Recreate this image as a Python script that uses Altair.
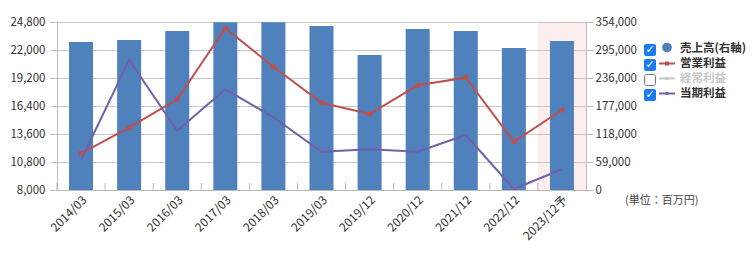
import altair as alt
import pandas as pd

categories = ["2014/03", "2015/03", "2016/03", "2017/03", "2018/03", "2019/03",
              "2019/12", "2020/12", "2021/12", "2022/12", "2023/12予"]
sales = [311900, 316100, 335000, 353500, 353500, 345600, 284500, 339300, 335000, 299200, 314000]
operating = [11670, 14230, 17070, 24170, 20330, 16730, 15600, 18470, 19230, 12830, 16000]
net = [11000, 21000, 13930, 18070, 15270, 11830, 12070, 11830, 13500, 8100, 10070]
left_ticks = [8000, 10800, 13600, 16400, 19200, 22000, 24800]
right_ticks = [0, 59000, 118000, 177000, 236000, 295000, 354000]
forecast = ["2023/12予"]

legend_labels = ["売上高(右軸)", "営業利益", "経常利益", "当期利益"]
legend_checked = [True, True, False, True]
legend_text_colors = ["#333333", "#333333", "#c8c8c8", "#333333"]

df = pd.DataFrame({"cat": categories, "sales": sales, "op": operating, "net": net})

FONT = "Noto Sans CJK JP"
W, H = 529, 168

xaxis = alt.Axis(labelAngle=-45, labelFontSize=12, labelColor="#333333",
                 labelFont=FONT, ticks=False, domainColor="#bbbbbb",
                 labelPadding=4, grid=False)
xscale = alt.Scale(paddingInner=0, paddingOuter=0)


def xenc(**kw):
    return alt.X("cat:N", sort=categories, title=None, scale=xscale, axis=xaxis, **kw)


lscale = alt.Scale(domain=[8000, 24800], nice=False, zero=False)
laxis = alt.Axis(orient="left", values=left_ticks, format=",.0f", grid=True,
                 gridColor="#c8c8c8", labelFontSize=11.5, labelColor="#333333",
                 labelFont=FONT, tickSize=7, labelPadding=5,
                 domainColor="#bbbbbb", tickColor="#bbbbbb")


def yleft(field):
    return alt.Y(field, type="quantitative", title=None, scale=lscale, axis=laxis)


base = alt.Chart(df)

bg = base.transform_filter(alt.FieldOneOfPredicate(field="cat", oneOf=forecast)).mark_rect(
    color="#f4a0a0", opacity=0.18).encode(x=xenc(), y=alt.value(0), y2=alt.value(H))

bars = base.mark_bar(size=24, color="#4f81bd").encode(
    x=xenc(),
    y=alt.Y("sales:Q", title=None,
            scale=alt.Scale(domain=[0, 354000], nice=False, zero=True),
            axis=alt.Axis(orient="right", values=right_ticks, format=",.0f", grid=False,
                          labelFontSize=11.5, labelColor="#333333", labelFont=FONT,
                          tickSize=7, labelPadding=2, domainColor="#bbbbbb",
                          tickColor="#bbbbbb")))

op_line = base.mark_line(color="#c0504d", strokeWidth=2).encode(x=xenc(), y=yleft("op"))
op_pts = base.mark_point(shape="square", filled=True, color="#c0504d", size=22, opacity=1).encode(
    x=xenc(), y=yleft("op"))
net_line = base.mark_line(color="#7460a8", strokeWidth=2).encode(x=xenc(), y=yleft("net"))
# small ticks at the category boundaries, rising 7px from the bottom axis
bticks = base.mark_rule(color="#bbbbbb", strokeWidth=1).encode(
    x=xenc(bandPosition=0), y=alt.value(H - 7), y2=alt.value(H))

lines = alt.layer(op_line, op_pts, net_line)

one = pd.DataFrame({"a": [0]})
leg_layers = []
sym_colors = ["#4f81bd", "#c0504d", "#c8c8c8", "#7460a8"]
for i, (lab, chk, tc) in enumerate(zip(legend_labels, legend_checked, legend_text_colors)):
    cy = 28 + 15 * i
    lc = alt.Chart(one)
    if chk:
        box = lc.mark_rect(color="#1a7cf2", cornerRadius=2).encode(
            x=alt.value(587), x2=alt.value(599), y=alt.value(cy - 6), y2=alt.value(cy + 6))
        tick = lc.mark_text(text="✓", font="DejaVu Sans", fontWeight="bold", fontSize=11,
                            color="white", align="center", baseline="middle").encode(
            x=alt.value(593), y=alt.value(cy))
        leg_layers += [box, tick]
    else:
        box = lc.mark_rect(fill="white", stroke="#777777", strokeWidth=1, cornerRadius=2).encode(
            x=alt.value(587.5), x2=alt.value(598.5), y=alt.value(cy - 5.5), y2=alt.value(cy + 5.5))
        leg_layers.append(box)
    if i == 0:
        sym = lc.mark_point(shape="circle", filled=True, color=sym_colors[i], size=95, opacity=1).encode(
            x=alt.value(610), y=alt.value(cy - 2.5))
        leg_layers.append(sym)
    else:
        ln = lc.mark_rule(color=sym_colors[i], strokeWidth=2).encode(
            x=alt.value(602), x2=alt.value(618), y=alt.value(cy - 1.5))
        mk = lc.mark_point(shape="square", filled=True, color=sym_colors[i],
                           size=16 if i == 1 else 8, opacity=1).encode(
            x=alt.value(610), y=alt.value(cy - 1.5))
        leg_layers += [ln, mk]
    txt = lc.mark_text(text=lab, font=FONT, fontWeight="bold", fontSize=11.5, color=tc,
                       align="left", baseline="middle").encode(x=alt.value(623), y=alt.value(cy - 1))
    leg_layers.append(txt)

unit = alt.Chart(one).mark_text(text="(単位：百万円)", font=FONT, fontSize=11, color="#444444",
                                align="left", baseline="middle").encode(x=alt.value(568), y=alt.value(179))

chart = alt.layer(bg, bars, lines, bticks, *leg_layers, unit).resolve_scale(y="independent").properties(
    width=W, height=H,
    autosize=alt.AutoSizeParams(type="none"),
    padding={"left": 57, "top": 22, "right": 170, "bottom": 71},
).configure_view(stroke=None).configure(background="white")

chart.save("out.html", embed_options={"renderer": "svg", "actions": False})
